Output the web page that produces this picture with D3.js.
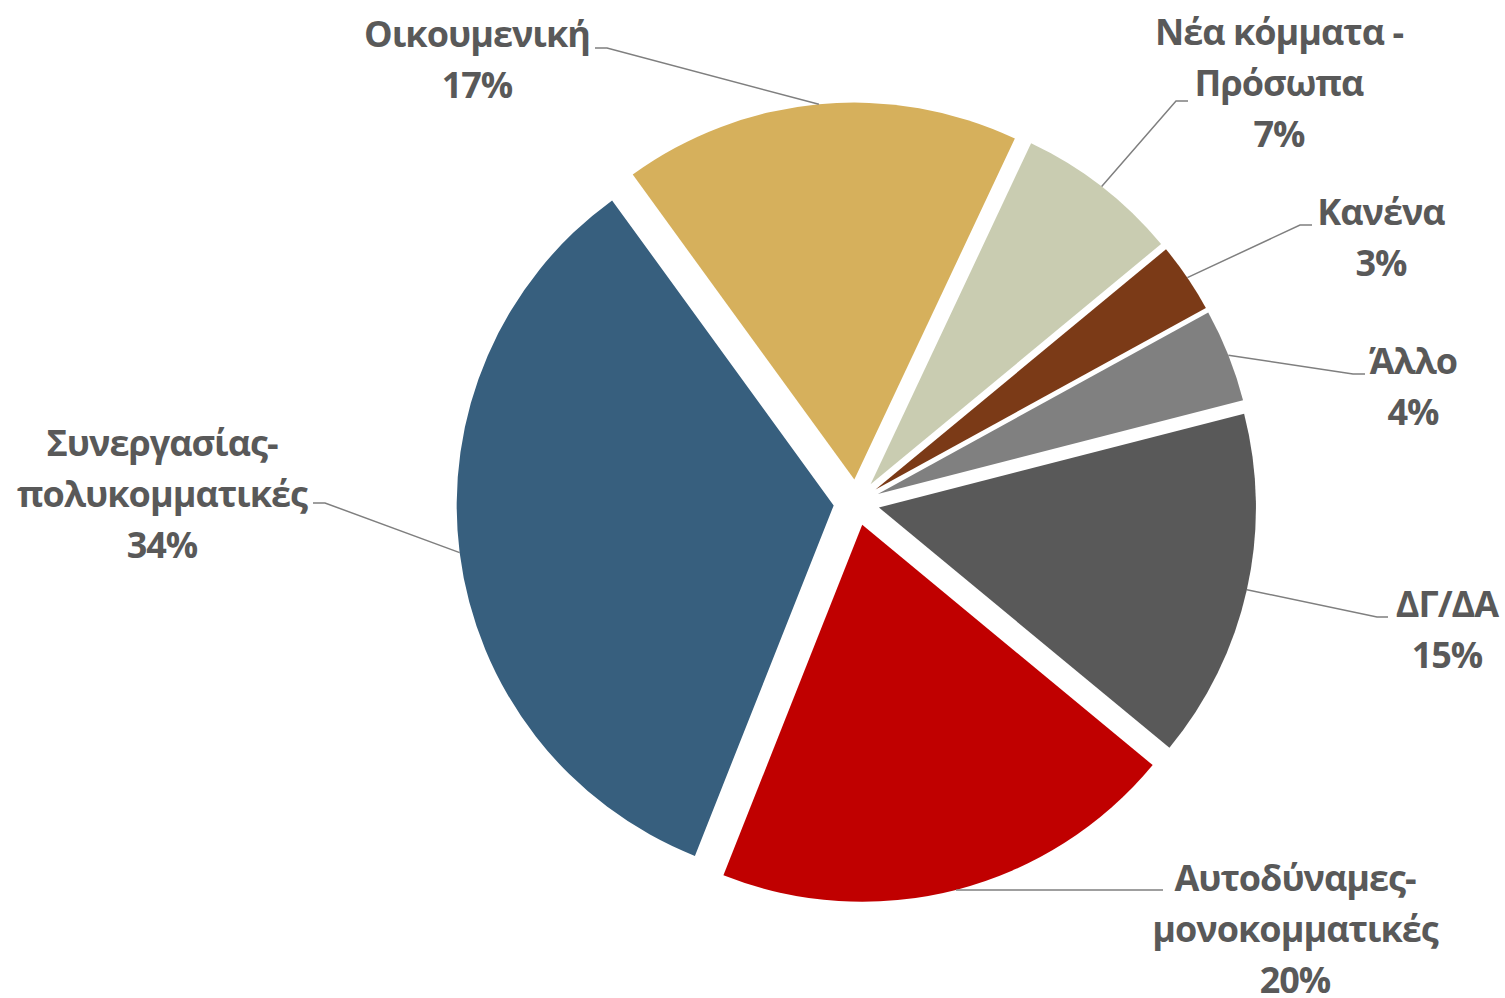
<!DOCTYPE html>
<html>
<head>
<meta charset="utf-8">
<script src="https://cdn.jsdelivr.net/npm/d3@7"></script>
<style>
  html, body { margin: 0; padding: 0; background: #fff; }
  svg text { font-family: "Open Sans", "Noto Sans", sans-serif; font-weight: bold; fill: #595959; }
</style>
</head>
<body>
<div id="chart"></div>
<script>
// Chart data
const categories = ["Οικουμενική", "Νέα κόμματα - Πρόσωπα", "Κανένα", "Άλλο", "ΔΓ/ΔΑ", "Αυτοδύναμες-μονοκομματικές", "Συνεργασίας-πολυκομματικές"];
const values = [17, 7, 3, 4, 15, 20, 34];
const colors = ["#D6B05C", "#C9CCB1", "#7B3A17", "#808080", "#595959", "#C00000", "#375F7E"];
const labelLines = [
  ["Οικουμενική"],
  ["Νέα κόμματα -", "Πρόσωπα"],
  ["Κανένα"],
  ["Άλλο"],
  ["ΔΓ/ΔΑ"],
  ["Αυτοδύναμες-", "μονοκομματικές"],
  ["Συνεργασίας-", "πολυκομματικές"]
];

// Label placement (text center x, first baseline y, leader elbow and stub end)
const labelLayout = [
  {x: 477, y: 47, elbow: [607, 48], stub: [595, 48]},
  {x: 1279, y: 45, elbow: [1176, 101], stub: [1188, 101]},
  {x: 1381, y: 225, elbow: [1300, 225], stub: [1312, 225]},
  {x: 1413, y: 374, elbow: [1353, 374], stub: [1365, 374]},
  {x: 1447, y: 617, elbow: [1377, 617], stub: [1388, 617]},
  {x: 1295, y: 891, elbow: [1163, 890], stub: [1163, 890]},
  {x: 162, y: 456, elbow: [325, 503], stub: [313, 503]}
];

const width = 1505, height = 998;
const cx = 856.5, cy = 502.5;
const radius = 377;
const explode = 23;
const lineHeight = 51;
const startDeg = -36;

const svg = d3.select("#chart").append("svg")
  .attr("width", width)
  .attr("height", height);

const pie = d3.pie()
  .sort(null)
  .value(d => d)
  .startAngle(startDeg * Math.PI / 180)
  .endAngle(startDeg * Math.PI / 180 + 2 * Math.PI);

const arc = d3.arc().innerRadius(0).outerRadius(radius);
const arcs = pie(values);

const g = svg.append("g").attr("transform", `translate(${cx},${cy})`);

function offsetOf(d) {
  const a = (d.startAngle + d.endAngle) / 2;
  return [explode * Math.sin(a), -explode * Math.cos(a)];
}

// Slices, each pulled out along its bisector
g.selectAll("path.slice")
  .data(arcs)
  .enter()
  .append("path")
  .attr("class", "slice")
  .attr("d", arc)
  .attr("fill", (d, i) => colors[i])
  .attr("transform", d => {
    const o = offsetOf(d);
    return `translate(${o[0]},${o[1]})`;
  });

// Leader lines from arc midpoint to label
arcs.forEach((d, i) => {
  const a = (d.startAngle + d.endAngle) / 2;
  const o = offsetOf(d);
  const sx = cx + o[0] + radius * Math.sin(a);
  const sy = cy + o[1] - radius * Math.cos(a);
  const L = labelLayout[i];
  svg.append("polyline")
    .attr("points", [[sx, sy], L.elbow, L.stub].map(p => p.join(",")).join(" "))
    .attr("fill", "none")
    .attr("stroke", "#7F7F7F")
    .attr("stroke-width", 1.5);
});

// Labels: category lines + percentage
arcs.forEach((d, i) => {
  const L = labelLayout[i];
  const lines = labelLines[i].concat([values[i] + "%"]);
  const t = svg.append("text")
    .attr("text-anchor", "middle")
    .attr("font-size", "36px")
    .attr("letter-spacing", "-1px");
  lines.forEach((s, j) => {
    t.append("tspan")
      .attr("x", L.x)
      .attr("y", L.y + j * lineHeight)
      .text(s);
  });
});
</script>
</body>
</html>
